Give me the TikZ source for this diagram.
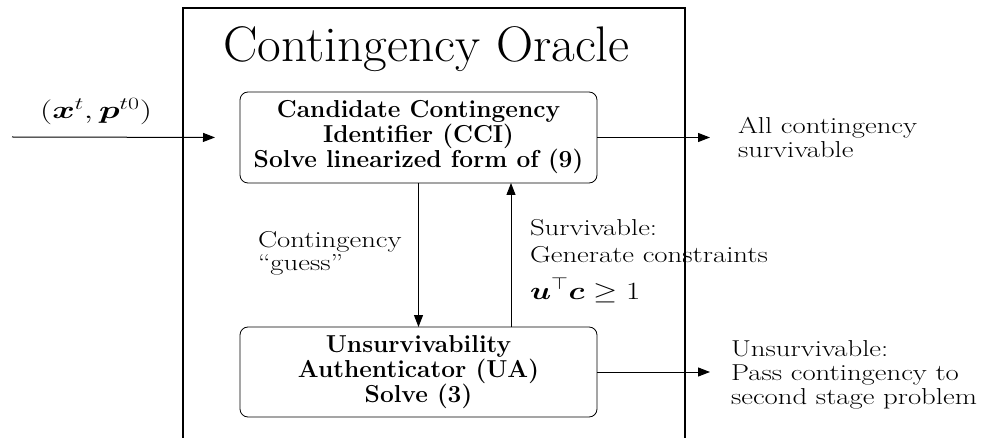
\documentclass[tikz,border=0pt]{standalone}
\usepackage{amsmath,amssymb,bm,graphicx}
\usetikzlibrary{arrows.meta}
% wide-set multi-line label text
\newcommand\widelines[2][1.25]{\scalebox{#1}[1]{\begin{tabular}{@{}l@{}}#2\end{tabular}}}
\begin{document}
\begin{tikzpicture}[x=1pt,y=-1pt,
  every node/.style={inner sep=0pt,outer sep=0pt},
  blk/.style={draw,line width=0.8pt,rounded corners=8pt,minimum width=357pt,
    align=center,font=\fontsize{24.5}{25}\selectfont\bfseries},
  lbl/.style={anchor=north west,font=\fontsize{23}{24}\selectfont},
  conn/.style={line width=1pt,-{Triangle[length=12pt,width=9pt]}}]
\useasboundingbox (0,0) rectangle (985,438);
% oracle frame, open at the bottom
\draw[line width=1.4pt] (183,438) -- (183,8) -- (685,8) -- (685,438);
\node[anchor=base,font=\fontsize{50}{54}\selectfont] (title) at (426.5,62)
  {\scalebox{1.03}[1]{Contingency Oracle}};
% blocks
\node[blk,minimum height=91pt] (cci) at (418.5,137.5)
  {Candidate Contingency\\Identifier (CCI)\\Solve linearized form of (9)};
\node[blk,minimum height=90pt] (ua) at (418.5,372)
  {Unsurvivability\\Authenticator (UA)\\Solve (3)};
% free ends
\coordinate (in) at (12,137);
\coordinate (outx) at (710,0);
\coordinate (upx) at (511,0);
% connectors
\draw[conn,shorten >=25pt] (in) -- (cci.west);
\node[anchor=base,font=\fontsize{26}{28}\selectfont] (inlbl) at (96,119)
  {\scalebox{1.38}[1]{$(\bm{x}^t,\bm{p}^{t0})$}};
\draw[conn] (cci.east) -- (cci.east -| outx);
\draw[conn] (cci.south) -- (ua.north);
\draw[conn] (ua.north -| upx) -- (cci.south -| upx);
\draw[conn] (ua.east) -- (ua.east -| outx);
% labels
\node[lbl] (oklbl) at (738,117) {\widelines{All contingency\\survivable}};
\node[lbl] (guess) at (258,231) {\widelines{Contingency\\[-1pt]``guess''}};
\node[lbl] (surv) at (530,219)
  {\widelines{Survivable:\\[3pt]Generate constraints\\[8pt]{\fontsize{27}{28}\selectfont$\bm{u}^{\top}\bm{c}\geq 1$}}};
\node[lbl] (unlbl) at (731,340) {\widelines{Unsurvivable:\\Pass contingency to\\second stage problem}};
\end{tikzpicture}
\end{document}
